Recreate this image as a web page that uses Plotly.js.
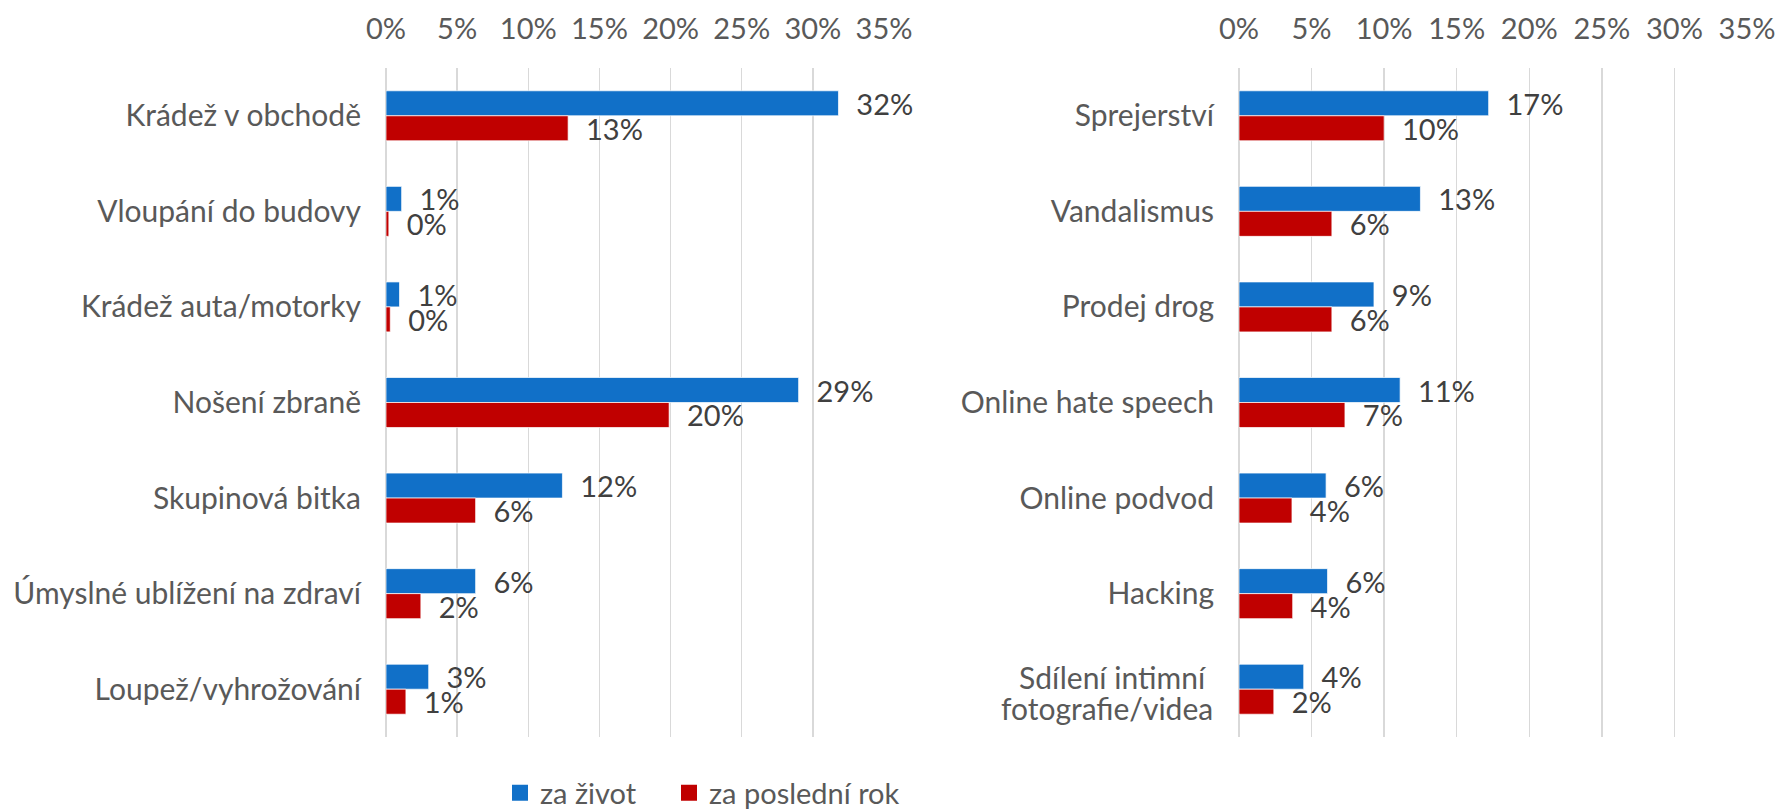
<!DOCTYPE html>
<html>
<head>
<meta charset="utf-8">
<script src="https://cdn.plot.ly/plotly-3.0.1.min.js"></script>
<style>html,body{margin:0;padding:0;background:#fff;}#chart{width:1777px;height:809px;}</style>
</head>
<body>
<div id="chart"></div>
<script>
// Left panel
const catsLeft = ["Krádež v obchodě", "Vloupání do budovy", "Krádež auta/motorky", "Nošení zbraně", "Skupinová bitka", "Úmyslné ublížení na zdraví", "Loupež/vyhrožování"];
const lifeLeft = [0.318, 0.011, 0.0095, 0.290, 0.124, 0.063, 0.030];
const yearLeft = [0.128, 0.002, 0.003, 0.199, 0.063, 0.0245, 0.014];
// Right panel
const catsRight = ["Sprejerství", "Vandalismus", "Prodej drog", "Online hate speech", "Online podvod", "Hacking", "Sdílení intimní\u00a0<br>fotografie/videa"];
const lifeRight = [0.172, 0.125, 0.093, 0.111, 0.060, 0.061, 0.0446];
const yearRight = [0.100, 0.064, 0.064, 0.073, 0.0365, 0.037, 0.024];
const seriesNames = ["za život", "za poslední rok"];
const xTickVals = [0, 0.05, 0.10, 0.15, 0.20, 0.25, 0.30, 0.35];
const xTickText = ["0%", "5%", "10%", "15%", "20%", "25%", "30%", "35%"];

const BLUE = "#1170C8", RED = "#C00000", TXT = "#595959", VAL = "#404040", GRID = "#D9D9D9";
const FONT = "Lato, 'Open Sans', sans-serif";
const FS = 29, CFS = 30;

function barTrace(x, y, name, color, xa, ya) {
  return {
    type: "bar", orientation: "h", x: x, y: y, name: name,
    xaxis: xa, yaxis: ya, showlegend: false,
    marker: {color: color, line: {color: "rgba(255,255,255,0.7)", width: 1}},
    texttemplate: "\u00a0\u00a0%{x:.0%}", textposition: "outside",
    textfont: {family: FONT, size: FS, color: VAL},
    constraintext: "none", cliponaxis: false, hoverinfo: "x+y"
  };
}
function legendTrace(name, color, legendId) {
  return {
    type: "scatter", mode: "markers", x: [null], y: [null], name: name,
    xaxis: "x", yaxis: "y", showlegend: true, legend: legendId,
    marker: {symbol: "square", size: 16, color: color}
  };
}

const data = [
  barTrace(lifeLeft, catsLeft, seriesNames[0], BLUE, "x", "y"),
  barTrace(yearLeft, catsLeft, seriesNames[1], RED, "x", "y"),
  barTrace(lifeRight, catsRight, seriesNames[0], BLUE, "x2", "y2"),
  barTrace(yearRight, catsRight, seriesNames[1], RED, "x2", "y2"),
  legendTrace(seriesNames[0], BLUE, "legend"),
  legendTrace(seriesNames[1], RED, "legend2")
];

const yDom = [1 - 737/809, 1 - 68/809];
function xAxis(dom, anchor) {
  return {
    domain: dom, anchor: anchor, side: "top", range: [0, 0.35],
    tickvals: xTickVals, ticktext: xTickText, showgrid: true, gridcolor: GRID, gridwidth: 1.3,
    zeroline: true, zerolinecolor: GRID, zerolinewidth: 1.3, showline: false, ticks: "",
    ticklabelstandoff: 22, tickfont: {family: FONT, size: FS, color: TXT}, fixedrange: true
  };
}
// multi-line category labels are drawn as annotations (tighter line spacing)
function yAxis(anchor, cats) {
  return {
    domain: yDom, anchor: anchor, autorange: "reversed", type: "category",
    categoryarray: cats, categoryorder: "array",
    tickvals: cats, ticktext: cats.map(c => c.includes("<br>") ? "" : c),
    showgrid: false, zeroline: false, showline: false, ticks: "",
    ticklabelstandoff: 24, tickfont: {family: FONT, size: CFS, color: TXT}, fixedrange: true
  };
}
function multiLineAnnots(cats, xa, ya) {
  const out = [];
  cats.forEach(c => {
    if (!c.includes("<br>")) return;
    const lines = c.split("<br>");
    const n = lines.length;
    lines.forEach((ln, i) => {
      out.push({
        xref: xa + " domain", yref: ya, x: 0, y: c, xanchor: "right", yanchor: "middle",
        xshift: -24, yshift: -(i - (n - 1) / 2) * 31 - 3.5, showarrow: false,
        text: ln, font: {family: FONT, size: CFS, color: TXT}
      });
    });
  });
  return out;
}
function legendBox(xpx) {
  return {
    orientation: "h", x: xpx/1777, xanchor: "left", y: 1 - 793/809, yanchor: "middle",
    font: {family: FONT, size: FS, color: TXT}, itemwidth: 30, bgcolor: "rgba(0,0,0,0)"
  };
}

const layout = {
  width: 1777, height: 809,
  margin: {l: 0, r: 0, t: 0, b: 0, autoexpand: false},
  paper_bgcolor: "#fff", plot_bgcolor: "#fff",
  barmode: "group", bargap: 0.477, bargroupgap: 0,
  font: {family: FONT, size: FS, color: TXT},
  xaxis: xAxis([386/1777, 884/1777], "y"),
  yaxis: yAxis("x", catsLeft),
  xaxis2: xAxis([1239/1777, 1747/1777], "y2"),
  yaxis2: yAxis("x2", catsRight),
  annotations: multiLineAnnots(catsLeft, "x", "y").concat(multiLineAnnots(catsRight, "x2", "y2")),
  showlegend: true,
  legend: legendBox(500),
  legend2: legendBox(669)
};

Plotly.newPlot("chart", data, layout, {displayModeBar: false, staticPlot: true});
</script>
</body>
</html>
